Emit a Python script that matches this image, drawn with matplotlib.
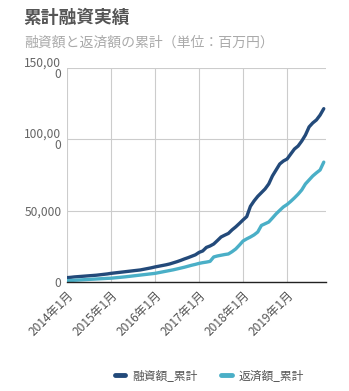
import numpy as np
import matplotlib
matplotlib.use('Agg')
import matplotlib.pyplot as plt

plt.rcParams['font.family'] = ['Noto Sans CJK JP', 'DejaVu Sans']

# monthly cumulative totals, 2014/1 .. 2019/11 (million yen)
loan_total = [3000, 3200, 3500, 3700, 3900, 4100, 4300, 4500, 4700, 5000, 5300, 5600,
              6000, 6300, 6600, 6900, 7200, 7500, 7800, 8100, 8400, 8900, 9400, 9900,
              10500, 11000, 11500, 12000, 12600, 13400, 14200, 15100, 16100, 17000, 18000, 19000,
              20700, 21700, 24200, 25200, 26600, 29000, 31500, 32800, 34000, 36500, 38600, 41000,
              43500, 45800, 53000, 56800, 60000, 62600, 65200, 68700, 74300, 78500, 82700, 84800,
              86200, 89700, 93200, 95300, 98800, 103000, 108700, 111500, 113600, 117000, 121500]
repay_total = [900, 1000, 1150, 1300, 1450, 1600, 1750, 1900, 2050, 2200, 2350, 2500,
               2600, 2850, 3100, 3350, 3600, 3900, 4200, 4500, 4800, 5100, 5400, 5700,
               6000, 6500, 7000, 7500, 8000, 8500, 9100, 9700, 10300, 11000, 11700, 12300,
               13000, 13500, 13900, 14400, 17500, 18200, 18700, 19200, 19600, 21200, 23100, 25800,
               28700, 30200, 31500, 33000, 35000, 39600, 40800, 42000, 44800, 47700, 50200, 52600,
               54300, 56500, 58900, 61500, 64500, 68700, 71500, 74300, 76500, 78500, 84000]
years = ['2014年1月', '2015年1月', '2016年1月', '2017年1月', '2018年1月', '2019年1月']
yticks = [0, 50000, 100000, 150000]
ylabels = ['0', '50,000', '100,00\n0', '150,00\n0']

months = np.arange(len(loan_total))

fig = plt.figure(figsize=(3.49, 3.91), dpi=100)
ax = fig.add_axes([0.192, 0.279, 0.742, 0.547])

ax.plot(months, loan_total, color='#234a7a', lw=2.4, label='融資額_累計', solid_capstyle='round')
ax.plot(months, repay_total, color='#4aafc7', lw=2.4, label='返済額_累計', solid_capstyle='round')

ax.set_xlim(0, 70.6)
ax.set_ylim(0, 150000)
ax.set_xticks(np.arange(0, 72, 12))
ax.set_xticklabels(years, rotation=45, ha='right', va='top', rotation_mode='anchor',
                   fontsize=8.6, color='#555555')
ax.set_yticks(yticks)
ax.set_yticklabels(ylabels, fontsize=8.7, color='#666666', linespacing=0.85)
ax.tick_params(length=0, pad=4)
ax.tick_params(axis='x', pad=5)

ax.grid(True, color='#cccccc', lw=0.8)
ax.set_axisbelow(True)
for s in ['top', 'right', 'left']:
    ax.spines[s].set_visible(False)
ax.spines['bottom'].set_color('#222222')
ax.spines['bottom'].set_linewidth(1.0)

fig.text(0.068, 0.953, '累計融資実績', fontsize=12.8, fontweight='bold', color='#555555', va='center')
fig.text(0.068, 0.891, '融資額と返済額の累計（単位：百万円）', fontsize=10, color='#aaaaaa', va='center')

leg = fig.legend(loc='center', bbox_to_anchor=(0.6, 0.04), ncol=2, frameon=False,
                 fontsize=8.5, handlelength=0.9, handletextpad=0.6, columnspacing=2.0)
for line in leg.get_lines():
    line.set_linewidth(3.5)
for t in leg.get_texts():
    t.set_color('#555555')

fig.savefig('out.png', dpi=100)
